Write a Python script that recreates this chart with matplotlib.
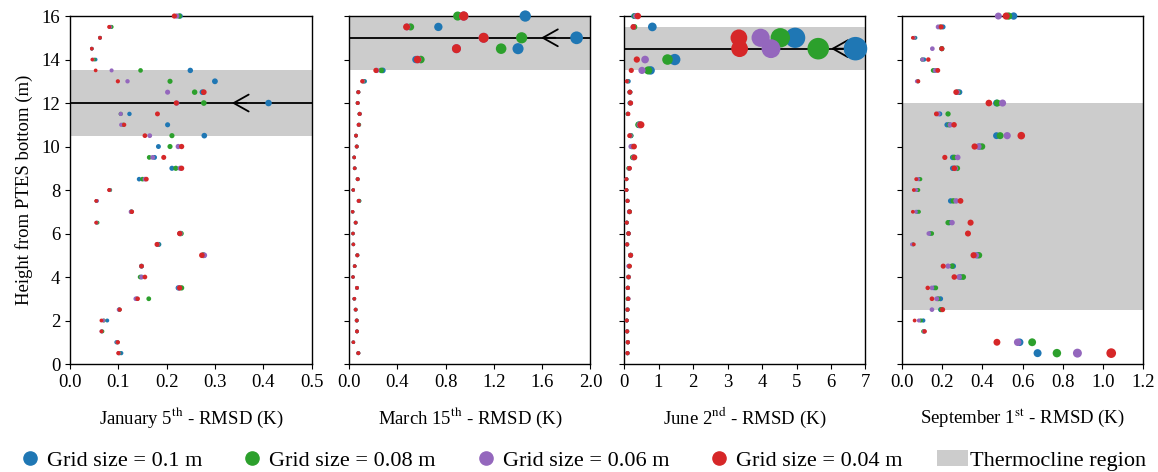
import matplotlib
matplotlib.use('Agg')
import matplotlib.pyplot as plt
import matplotlib.patches as patches
from matplotlib.lines import Line2D

plt.rcParams['font.family'] = ['Liberation Serif', 'DejaVu Serif']
plt.rcParams['mathtext.fontset'] = 'stix'
plt.rcParams['font.size'] = 13.5

# Alturas (m) desde el fondo del PTES
heights = [0.5, 1.0, 1.5, 2.0, 2.5, 3.0, 3.5, 4.0, 4.5, 5.0, 5.5, 6.0, 6.5, 7.0, 7.5, 8.0,
           8.5, 9.0, 9.5, 10.0, 10.5, 11.0, 11.5, 12.0, 12.5, 13.0, 13.5, 14.0, 14.5, 15.0, 15.5, 16.0]

grid_labels = ['Grid size = 0.1 m', 'Grid size = 0.08 m', 'Grid size = 0.06 m', 'Grid size = 0.04 m']
grid_colors = ['#1f77b4', '#2ca02c', '#9467bd', '#d62728']

# --- Enero 5 ---
jan_01 = [0.106, 0.096, 0.066, 0.077, 0.102, 0.138, 0.224, 0.148, 0.148, 0.276, 0.184, 0.228, 0.055, 0.127, 0.055, 0.082,
          0.143, 0.211, 0.175, 0.183, 0.278, 0.202, 0.123, 0.411, 0.274, 0.300, 0.249, 0.053, 0.045, 0.062, 0.084, 0.228]
jan_008 = [0.102, 0.098, 0.067, 0.070, 0.102, 0.163, 0.231, 0.145, 0.148, 0.276, 0.182, 0.230, 0.057, 0.127, 0.055, 0.083,
           0.150, 0.219, 0.164, 0.207, 0.211, 0.110, 0.105, 0.277, 0.258, 0.207, 0.146, 0.050, 0.045, 0.062, 0.086, 0.226]
jan_006 = [0.101, 0.098, 0.065, 0.069, 0.101, 0.136, 0.226, 0.148, 0.148, 0.278, 0.181, 0.228, 0.055, 0.126, 0.056, 0.082,
           0.155, 0.228, 0.171, 0.224, 0.165, 0.106, 0.105, 0.221, 0.202, 0.119, 0.086, 0.047, 0.045, 0.062, 0.083, 0.221]
jan_004 = [0.100, 0.099, 0.065, 0.065, 0.103, 0.140, 0.227, 0.155, 0.148, 0.273, 0.180, 0.227, 0.054, 0.128, 0.054, 0.081,
           0.158, 0.231, 0.194, 0.231, 0.155, 0.112, 0.181, 0.220, 0.277, 0.099, 0.053, 0.046, 0.045, 0.062, 0.081, 0.216]

# --- Marzo 15 ---
mar_01 = [0.077, 0.036, 0.066, 0.064, 0.055, 0.044, 0.066, 0.033, 0.047, 0.069, 0.036, 0.033, 0.055, 0.030, 0.085, 0.035,
          0.072, 0.047, 0.043, 0.064, 0.058, 0.082, 0.088, 0.072, 0.077, 0.130, 0.280, 0.554, 1.400, 1.885, 0.740, 1.460]
mar_008 = [0.077, 0.036, 0.066, 0.064, 0.055, 0.044, 0.066, 0.033, 0.047, 0.069, 0.036, 0.033, 0.055, 0.030, 0.085, 0.035,
           0.072, 0.047, 0.043, 0.064, 0.058, 0.084, 0.088, 0.072, 0.077, 0.120, 0.267, 0.595, 1.260, 1.430, 0.510, 0.900]
mar_006 = [0.077, 0.036, 0.066, 0.064, 0.055, 0.044, 0.066, 0.033, 0.047, 0.069, 0.036, 0.033, 0.055, 0.030, 0.080, 0.035,
           0.072, 0.047, 0.043, 0.064, 0.058, 0.080, 0.088, 0.072, 0.077, 0.115, 0.230, 0.570, 0.890, 1.115, 0.480, 0.950]
mar_004 = [0.077, 0.036, 0.066, 0.064, 0.055, 0.044, 0.066, 0.033, 0.047, 0.069, 0.036, 0.033, 0.055, 0.030, 0.080, 0.035,
           0.072, 0.047, 0.043, 0.064, 0.058, 0.080, 0.088, 0.072, 0.077, 0.110, 0.223, 0.567, 0.890, 1.115, 0.477, 0.950]

# --- Junio 2 ---
jun_01 = [0.10, 0.11, 0.09, 0.08, 0.10, 0.12, 0.11, 0.13, 0.15, 0.19, 0.09, 0.13, 0.08, 0.16, 0.10, 0.07,
          0.07, 0.15, 0.27, 0.24, 0.20, 0.44, 0.11, 0.17, 0.17, 0.13, 0.77, 1.47, 6.71, 4.96, 0.82, 0.29]
jun_008 = [0.10, 0.11, 0.09, 0.08, 0.10, 0.10, 0.11, 0.13, 0.15, 0.19, 0.09, 0.13, 0.08, 0.16, 0.10, 0.07,
           0.07, 0.13, 0.25, 0.22, 0.20, 0.42, 0.10, 0.18, 0.17, 0.10, 0.70, 1.26, 5.63, 4.53, 0.30, 0.32]
jun_006 = [0.10, 0.11, 0.09, 0.08, 0.10, 0.12, 0.11, 0.13, 0.13, 0.19, 0.09, 0.13, 0.08, 0.15, 0.10, 0.07,
           0.07, 0.15, 0.28, 0.20, 0.18, 0.46, 0.11, 0.19, 0.17, 0.09, 0.52, 0.61, 4.26, 3.96, 0.27, 0.35]
jun_004 = [0.10, 0.11, 0.09, 0.08, 0.10, 0.12, 0.11, 0.13, 0.16, 0.19, 0.09, 0.13, 0.08, 0.16, 0.10, 0.07,
           0.07, 0.16, 0.30, 0.29, 0.16, 0.49, 0.12, 0.19, 0.17, 0.08, 0.21, 0.37, 3.35, 3.33, 0.27, 0.40]

# --- Septiembre 1 ---
sep_01 = [0.674, 0.585, 0.110, 0.106, 0.192, 0.192, 0.160, 0.290, 0.255, 0.375, 0.055, 0.140, 0.235, 0.075, 0.242, 0.075,
          0.085, 0.252, 0.252, 0.385, 0.470, 0.224, 0.188, 0.470, 0.286, 0.080, 0.165, 0.110, 0.198, 0.067, 0.204, 0.555]
sep_008 = [0.770, 0.647, 0.106, 0.094, 0.195, 0.180, 0.168, 0.304, 0.249, 0.383, 0.055, 0.148, 0.229, 0.084, 0.255, 0.081,
           0.091, 0.275, 0.260, 0.398, 0.488, 0.235, 0.229, 0.474, 0.278, 0.078, 0.155, 0.101, 0.198, 0.062, 0.190, 0.530]
sep_006 = [0.872, 0.575, 0.110, 0.084, 0.149, 0.173, 0.149, 0.284, 0.229, 0.368, 0.049, 0.133, 0.249, 0.069, 0.269, 0.071,
           0.080, 0.265, 0.277, 0.380, 0.523, 0.240, 0.180, 0.500, 0.275, 0.074, 0.165, 0.101, 0.151, 0.060, 0.180, 0.479]
sep_004 = [1.040, 0.472, 0.113, 0.063, 0.202, 0.149, 0.128, 0.260, 0.205, 0.356, 0.059, 0.328, 0.341, 0.054, 0.291, 0.059,
           0.071, 0.260, 0.213, 0.361, 0.593, 0.259, 0.171, 0.432, 0.269, 0.081, 0.178, 0.131, 0.198, 0.054, 0.195, 0.518]

panel_xlabels = ['January 5$^{\\mathrm{th}}$ - RMSD (K)', 'March 15$^{\\mathrm{th}}$ - RMSD (K)',
                 'June 2$^{\\mathrm{nd}}$ - RMSD (K)', 'September 1$^{\\mathrm{st}}$ - RMSD (K)']
panel_series = [[jan_01, jan_008, jan_006, jan_004],
                [mar_01, mar_008, mar_006, mar_004],
                [jun_01, jun_008, jun_006, jun_004],
                [sep_01, sep_008, sep_006, sep_004]]
panel_xmax = [0.5, 2.0, 7.0, 1.2]
panel_xticks = [[0.0, 0.1, 0.2, 0.3, 0.4, 0.5],
                [0.0, 0.4, 0.8, 1.2, 1.6, 2.0],
                [0, 1, 2, 3, 4, 5, 6, 7],
                [0.0, 0.2, 0.4, 0.6, 0.8, 1.0, 1.2]]
panel_xticklabels = [['0.0', '0.1', '0.2', '0.3', '0.4', '0.5'],
                     ['0.0', '0.4', '0.8', '1.2', '1.6', '2.0'],
                     ['0', '1', '2', '3', '4', '5', '6', '7'],
                     ['0.0', '0.2', '0.4', '0.6', '0.8', '1.0', '1.2']]
# Región de termoclina (abajo, arriba) y posición de la línea + flecha
thermo_band = [(10.5, 13.5), (13.5, 16.0), (13.5, 15.5), (2.5, 12.0)]
thermo_line = [12.0, 15.0, 14.5, None]
arrow_x = [0.335, 1.59, 6.0, None]

fig = plt.figure(figsize=(11.58, 4.72), dpi=100)
lefts = [0.0605, 0.3014, 0.5389, 0.7789]
width = 0.2085
bottom, height = 0.2288, 0.7372

for i in range(4):
    ax = fig.add_axes([lefts[i], bottom, width, height])
    ax.set_xlim(0, panel_xmax[i])
    ax.set_ylim(0, 16)

    lo, hi = thermo_band[i]
    ax.axhspan(lo, hi, color='#cccccc', lw=0, zorder=0)
    if thermo_line[i] is not None:
        ax.axhline(thermo_line[i], color='black', lw=1.3, zorder=1)
        ax.annotate('', xy=(arrow_x[i], thermo_line[i]),
                    xytext=(arrow_x[i] + panel_xmax[i] * 0.06, thermo_line[i]),
                    arrowprops=dict(arrowstyle='->, head_length=0.8, head_width=0.45',
                                    color='black', lw=1.3, shrinkA=0, shrinkB=0), zorder=2)

    for vals, color in zip(panel_series[i], grid_colors):
        sizes = [5 + 42 * v for v in vals]
        ax.scatter(vals, heights, s=sizes, color=color, linewidths=0, zorder=3, clip_on=False)

    ax.set_xticks(panel_xticks[i])
    ax.set_xticklabels(panel_xticklabels[i])
    ax.set_yticks([0, 2, 4, 6, 8, 10, 12, 14, 16])
    if i == 0:
        ax.set_ylabel('Height from PTES bottom (m)', labelpad=6)
    else:
        ax.set_yticklabels([])
    ax.set_xlabel(panel_xlabels[i], labelpad=11)
    for sp in ax.spines.values():
        sp.set_linewidth(1.0)

handles = [Line2D([], [], marker='o', ls='', color=c, markersize=9.5) for c in grid_colors]
handles.append(patches.Patch(facecolor='#cccccc', edgecolor='none'))
fig.legend(handles, grid_labels + ['Thermocline region'], loc='lower center', ncol=5,
           bbox_to_anchor=(-0.005, -0.04, 1.012, 0.2), mode='expand', frameon=False,
           handlelength=1.4, handletextpad=0.08, fontsize=16)

fig.savefig('out.png', dpi=100)
